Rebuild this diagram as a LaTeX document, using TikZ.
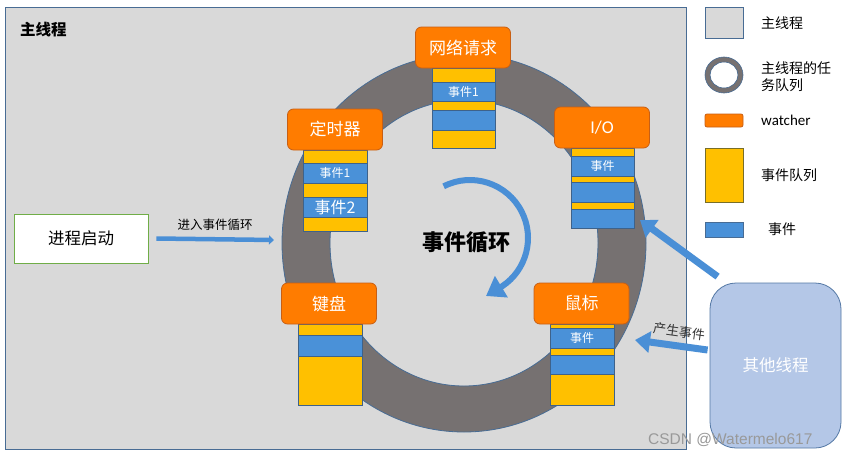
\documentclass[tikz,border=0pt]{standalone}
\usepackage{fontspec}
\setmainfont{Carlito}
\newfontfamily\cjk{Noto Sans CJK SC}
\newfontfamily\wmfont{Liberation Sans}
\usetikzlibrary{arrows.meta}
\definecolor{bggray}{RGB}{217,217,217}
\definecolor{frameblue}{RGB}{72,108,148}
\definecolor{ringgray}{RGB}{118,113,113}
\definecolor{worange}{RGB}{255,124,0}
\definecolor{worangeb}{RGB}{200,95,20}
\definecolor{qyellow}{RGB}{255,192,0}
\definecolor{evblue}{RGB}{74,145,216}
\definecolor{qborder}{RGB}{62,98,138}
\definecolor{otherfill}{RGB}{180,199,231}
\definecolor{otherdraw}{RGB}{84,120,165}
\definecolor{procgreen}{RGB}{112,173,71}
\definecolor{arrowblue}{RGB}{74,143,214}
\definecolor{legyb}{RGB}{120,110,40}
\tikzset{
  watcher/.style={draw=worangeb, fill=worange, line width=0.8pt, rounded corners=6pt,
    minimum width=95pt, minimum height=41pt, inner sep=0pt, text=white, font=\cjk\fontsize{17}{17}\selectfont},
  ybar/.style={draw=qborder, fill=qyellow, line width=0.8pt},
  bbar/.style={draw=qborder, fill=evblue, line width=0.8pt},
  evtext/.style={inner sep=0pt, text=white, font=\cjk\fontsize{12}{12}\selectfont},
  blockarrow/.style={line width=7pt, arrowblue, -{Triangle[width=21pt,length=15pt]}},
  lgtext/.style={anchor=west, inner sep=0pt, font=\cjk\fontsize{14}{16}\selectfont, align=left}
}
\begin{document}
\begin{tikzpicture}[x=1pt,y=-1pt]
\useasboundingbox (0,0) rectangle (846,458);
\fill[white] (0,0) rectangle (846,458);
% main thread area
\draw[fill=bggray, draw=frameblue, line width=0.8pt] (5,7) rectangle (686,449);
\node[anchor=west, inner sep=0pt, font=\cjk\bfseries\fontsize{15.5}{15.5}\selectfont] (title) at (20,30) {主线程};
% ring
\fill[ringgray, even odd rule] (464,243) ellipse[x radius=182, y radius=189] (464,243) ellipse[x radius=134, y radius=143];
\draw[frameblue, line width=0.8pt] (464,243) ellipse[x radius=182, y radius=189];
\draw[frameblue, line width=0.8pt] (464,243) ellipse[x radius=134, y radius=143];
% curved arrow
\draw[line width=6pt, arrowblue, -{Triangle[width=24pt,length=18pt]}] (470,238) ++(243:58) arc[start angle=243, end angle=416, radius=58] -- (486,296);
\node[font=\cjk\bfseries\fontsize{22}{22}\selectfont, inner sep=0pt] (loop) at (466,242) {事件循环};
% queue: network
\draw[ybar] (432,68) rectangle (495,82);
\draw[bbar] (432,82) rectangle (495,101);
\draw[ybar] (432,101) rectangle (495,110);
\draw[bbar] (432,110) rectangle (495,130);
\draw[ybar] (432,130) rectangle (495,148);
\node[evtext] (netev1) at (463.5,91.5) {事件1};
% queue: timer
\draw[ybar] (303,150) rectangle (367,163);
\draw[bbar] (303,163) rectangle (367,183);
\draw[ybar] (303,183) rectangle (367,197);
\draw[bbar] (303,197) rectangle (367,217);
\draw[ybar] (303,217) rectangle (367,231);
\node[evtext] (timev1) at (335,173) {事件1};
\node[evtext, font=\cjk\fontsize{16}{16}\selectfont] (timev2) at (335,207) {事件2};
% queue: IO
\draw[ybar] (571,148) rectangle (634,156);
\draw[bbar] (571,156) rectangle (634,176);
\draw[ybar] (571,176) rectangle (634,182);
\draw[bbar] (571,182) rectangle (634,202);
\draw[ybar] (571,202) rectangle (634,209);
\draw[bbar] (571,209) rectangle (634,228);
\node[evtext] (ioev) at (602.5,166) {事件};
% queue: keyboard
\draw[ybar] (298,324) rectangle (362,335);
\draw[bbar] (298,335) rectangle (362,356);
\draw[ybar] (298,356) rectangle (362,405);
% queue: mouse
\draw[ybar] (550,324) rectangle (614,328);
\draw[bbar] (550,328) rectangle (614,348);
\draw[ybar] (550,348) rectangle (614,355);
\draw[bbar] (550,355) rectangle (614,374);
\draw[ybar] (550,374) rectangle (614,405);
\node[evtext] (mouseev) at (582,338) {事件};
% watchers
\node[watcher] (net) at (463,47.5) {网络请求};
\node[watcher] (timer) at (335,129.5) {定时器};
\node[watcher, font=\fontsize{18}{18}\selectfont] (io) at (602,127.5) {I/O};
\node[watcher] (kbd) at (329,303.5) {键盘};
\node[watcher] (mouse) at (581.5,303.5) {鼠标};
% process start
\node[draw=procgreen, fill=white, line width=0.8pt, minimum width=134pt, minimum height=49pt, inner sep=0pt,
  font=\cjk\fontsize{16.5}{16.5}\selectfont] (proc) at (81,238.5) {进程启动};
\coordinate (ringin) at (274,240);
\draw[line width=4.5pt, arrowblue, -{Triangle[width=9pt,length=5pt]}] ([xshift=8pt]proc.east) -- (ringin)
  node[midway, above=6pt, inner sep=0pt, text=black, font=\cjk\fontsize{12.5}{13}\selectfont] (enterlbl) {进入事件循环};
% other threads
\node[draw=otherdraw, fill=otherfill, line width=0.8pt, rounded corners=26pt, minimum width=131pt, minimum height=165pt,
  inner sep=0pt, text=white, font=\cjk\fontsize{16.5}{16.5}\selectfont] (other) at (775.5,365.5) {其他线程};
\coordinate (iotip) at (640,220);
\coordinate (mousetip) at (635,340);
\draw[blockarrow] ([xshift=8pt,yshift=6pt]other.north west) -- (iotip);
\draw[blockarrow] ([xshift=-2pt,yshift=15.5pt]other.west) -- (mousetip)
  node[pos=0.42, above=5pt, sloped, inner sep=0pt, text=black!80, font=\cjk\fontsize{13}{13}\selectfont] (genlbl) {产生事件};
% legend
\draw[fill=bggray, draw=frameblue, line width=0.8pt] (705,7) rectangle (743,38);
\node[lgtext] (lg1) at (761,23) {主线程};
\fill[ringgray, even odd rule] (724,75) ellipse[x radius=19, y radius=18] (724,75) ellipse[x radius=14, y radius=13];
\draw[frameblue, line width=0.6pt] (724,75) ellipse[x radius=19, y radius=18];
\draw[frameblue, line width=0.6pt] (724,75) ellipse[x radius=14, y radius=13];
\node[lgtext, font=\cjk\fontsize{14}{17}\selectfont] (lg2) at (761,77) {主线程的任\\务队列};
\draw[fill=worange, draw=worangeb, line width=0.8pt, rounded corners=2pt] (705,114) rectangle (743,127);
\node[lgtext, font=\fontsize{15}{15}\selectfont] (lg3) at (761,120.5) {watcher};
\draw[fill=qyellow, draw=legyb, line width=0.8pt] (705,148) rectangle (743,202);
\node[lgtext] (lg4) at (761,175) {事件队列};
\draw[fill=evblue, draw=frameblue, line width=0.8pt] (705,222) rectangle (743,237);
\node[lgtext] (lg5) at (768,229.5) {事件};
% watermark
\node[anchor=west, inner sep=0pt, text=black!40, font=\wmfont\fontsize{15.5}{16}\selectfont] (wm) at (648,440) {CSDN @Watermelo617};
\end{tikzpicture}
\end{document}
